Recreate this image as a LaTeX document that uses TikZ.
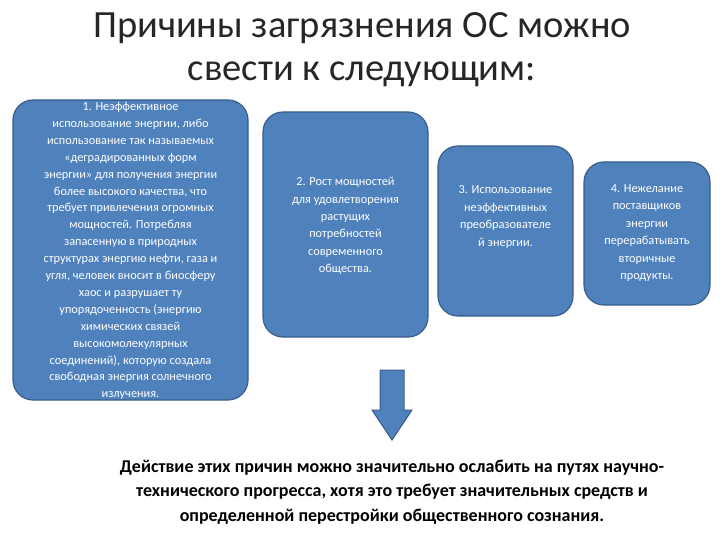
\documentclass[tikz,border=0pt]{standalone}
\usepackage{fontspec}
\setmainfont{Carlito}
\definecolor{bfill}{HTML}{4F81BD}
\definecolor{bdraw}{HTML}{385D8A}
\begin{document}
\begin{tikzpicture}[x=1pt,y=-1pt,
  cbox/.style={draw=bdraw,line width=1.2pt,fill=bfill,rounded corners=20pt},
  ctext/.style={text=white,align=center,inner sep=0pt,font=\fontsize{12.3}{17.4}\selectfont}]
\useasboundingbox (0,0) rectangle (720,540);
\node[font=\fontsize{38.5}{43}\selectfont,align=center,text=black!85] (title) at (362,50) {Причины загрязнения ОС можно\\свести к следующим:};
\draw[cbox] (13,100) rectangle (248,400);
\node[ctext,font=\fontsize{12.3}{16.9}\selectfont] (t1) at (130.5,251) {1. Неэффективное\\использование энергии, либо\\использование так называемых\\«деградированных форм\\энергии» для получения энергии\\более высокого качества, что\\требует привлечения огромных\\мощностей. Потребляя\\запасенную в природных\\структурах энергию нефти, газа и\\угля, человек вносит в биосферу\\хаос и разрушает ту\\упорядоченность (энергию\\химических связей\\высокомолекулярных\\соединений), которую создала\\свободная энергия солнечного\\излучения.};
\draw[cbox] (263,112) rectangle (428,337);
\node[ctext] (t2) at (345.5,226) {2. Рост мощностей\\для удовлетворения\\растущих\\потребностей\\современного\\общества.};
\draw[cbox] (438,146) rectangle (573,316);
\node[ctext] (t3) at (505.5,217) {3. Использование\\неэффективных\\преобразователе\\й энергии.};
\draw[cbox] (584,162) rectangle (710,305);
\node[ctext] (t4) at (647,233) {4. Нежелание\\поставщиков\\энергии\\перерабатывать\\вторичные\\продукты.};
\draw[bdraw,line width=1pt,fill=bfill] (380,370) -- (404,370) -- (404,410) -- (412,410) -- (392,440) -- (372,410) -- (380,410) -- cycle;
\node[font=\bfseries\fontsize{18}{24.5}\selectfont,align=center] (bot) at (392,492) {Действие этих причин можно значительно ослабить на путях научно-\\технического прогресса, хотя это требует значительных средств и\\определенной перестройки общественного сознания.};
\end{tikzpicture}
\end{document}
